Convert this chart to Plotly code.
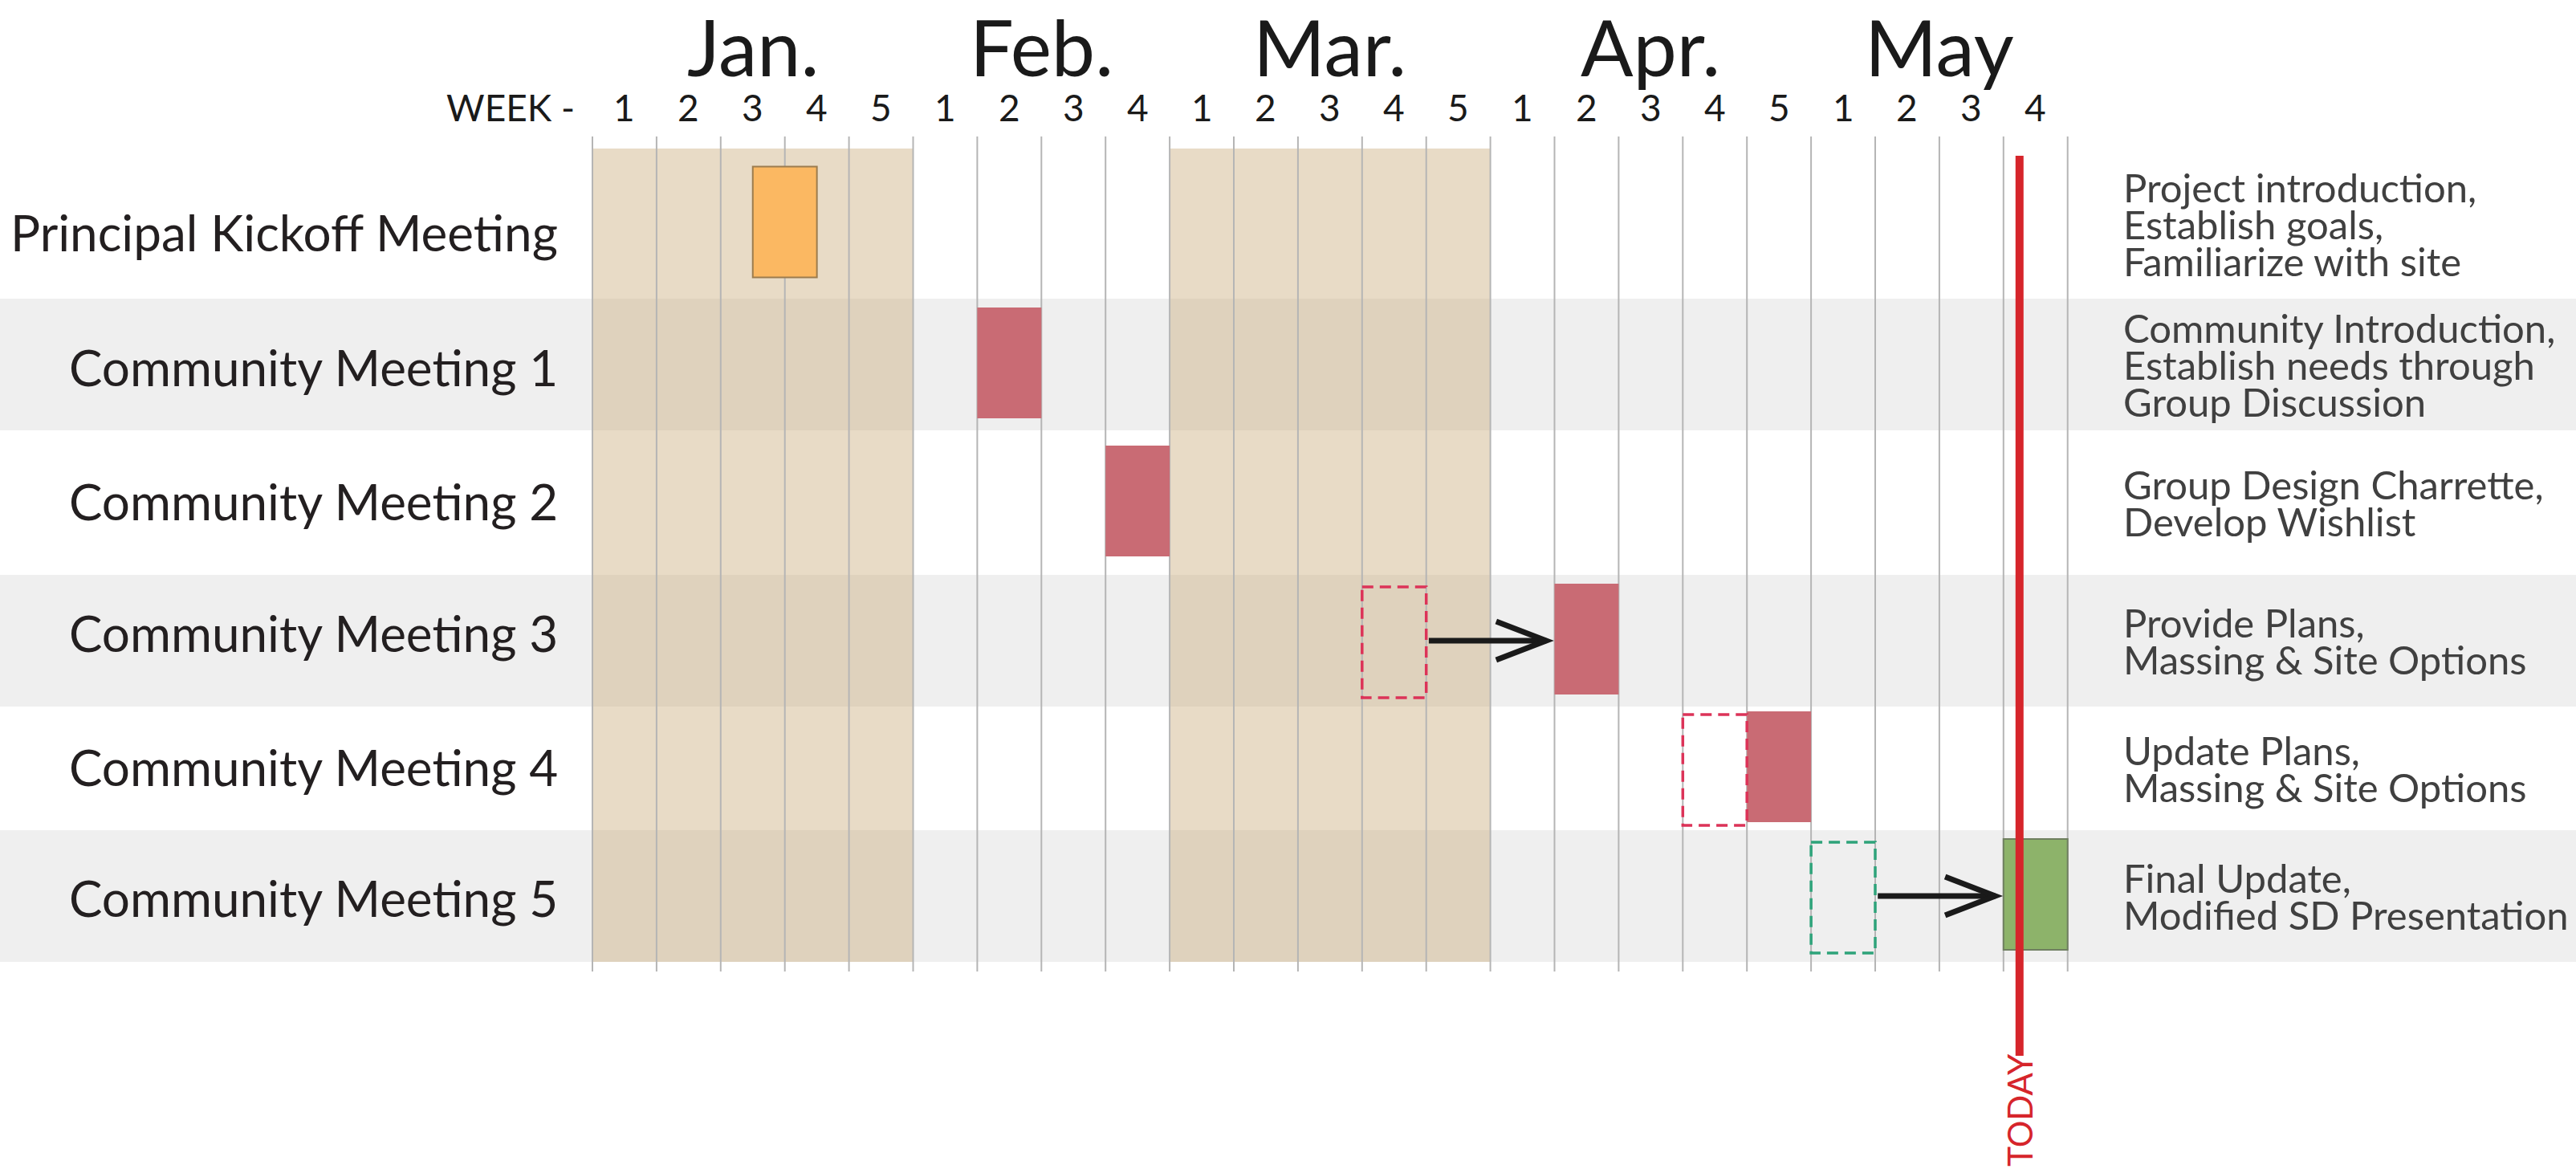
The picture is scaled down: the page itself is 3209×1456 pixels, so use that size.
import plotly.graph_objects as go

# ---------------- data ----------------
months = ["Jan.", "Feb.", "Mar.", "Apr.", "May"]
weeks_per_month = [5, 4, 5, 5, 4]
shaded_months = ["Jan.", "Mar."]

tasks = [
    "Principal Kickoff Meeting",
    "Community Meeting 1",
    "Community Meeting 2",
    "Community Meeting 3",
    "Community Meeting 4",
    "Community Meeting 5",
]
# week index (0-based, counted from Jan. week 1) at which each meeting is held
actual_start = [2.5, 6, 8, 15, 18, 22]
actual_weeks = [1, 1, 1, 1, 1, 1]
# originally planned week (None = not rescheduled)
planned_start = [None, None, None, 12, 17, 19]

descriptions = [
    ["Project introduction,", "Establish goals,", "Familiarize with site"],
    ["Community Introduction,", "Establish needs through", "Group Discussion"],
    ["Group Design Charrette,", "Develop Wishlist"],
    ["Provide Plans,", "Massing & Site Options"],
    ["Update Plans,", "Massing & Site Options"],
    ["Final Update,", "Modified SD Presentation"],
]
today_week = 22.25
today_label = "TODAY"
week_prefix = "WEEK -"

# ---------------- layout / style ----------------
W, H = 3209, 1456
X0_PX = 738.0
WEEK_PX = 79.9
ROW_EDGES = [185, 372, 536, 716, 880, 1034, 1198]
BAR_H = 138
FONT = "Lato"

bar_fill = ["#fbb862", "#c96b74", "#c96b74", "#c96b74", "#c96b74", "#8db36a"]
bar_line = ["#9c7c4e", "#c96b74", "#c96b74", "#c96b74", "#c96b74", "#6f7f60"]
bar_line_w = [2, 0, 0, 0, 0, 2]
planned_color = [None, None, None, "#dc3358", "#dc3358", "#2ea37a"]
label_dy = [10, 3, -2, -10, -2, 2]


def px2x(px):
    return (px - X0_PX) / WEEK_PX


row_center = [(ROW_EDGES[i] + ROW_EDGES[i + 1]) / 2 for i in range(len(tasks))]
n_weeks = sum(weeks_per_month)
month_start = [sum(weeks_per_month[:i]) for i in range(len(months))]

shapes = []
# alternating row bands
for i in range(len(tasks)):
    if i % 2 == 1:
        shapes.append(dict(type="rect", xref="x", yref="y", x0=px2x(0), x1=px2x(W),
                           y0=ROW_EDGES[i], y1=ROW_EDGES[i + 1], fillcolor="#efefef",
                           line=dict(width=0), layer="below"))
# shaded months
for m, s, n in zip(months, month_start, weeks_per_month):
    if m in shaded_months:
        shapes.append(dict(type="rect", xref="x", yref="y", x0=s, x1=s + n,
                           y0=ROW_EDGES[0], y1=ROW_EDGES[-1],
                           fillcolor="rgba(206,179,134,0.47)", line=dict(width=0), layer="below"))
# week grid lines
for k in range(n_weeks + 1):
    shapes.append(dict(type="line", xref="x", yref="y", x0=k, x1=k,
                       y0=ROW_EDGES[0] - 15, y1=ROW_EDGES[-1] + 12,
                       line=dict(color="#b5b5b5", width=2), layer="below"))
# planned (dashed) boxes and arrows
for i, p in enumerate(planned_start):
    if p is None:
        continue
    yc = row_center[i] - 2
    shapes.append(dict(type="rect", xref="x", yref="y", x0=p, x1=p + 1,
                       y0=yc - BAR_H / 2 + 4, y1=yc + BAR_H / 2 + 4,
                       line=dict(color=planned_color[i], width=3.5, dash="14px,8px"),
                       fillcolor="rgba(0,0,0,0)", layer="above"))
    a = actual_start[i]
    if a - (p + 1) > 0.5:
        tip = a - 0.13
        shapes.append(dict(type="line", xref="x", yref="y", x0=p + 1 + 0.04, x1=tip,
                           y0=row_center[i], y1=row_center[i],
                           line=dict(color="#1a1a1a", width=7), layer="above"))
        shapes.append(dict(type="path", xref="x", yref="y",
                           path=f"M {tip - 0.78},{row_center[i] - 24} L {tip},{row_center[i]} "
                                f"L {tip - 0.78},{row_center[i] + 24}",
                           line=dict(color="#1a1a1a", width=7), layer="above"))
# today line
shapes.append(dict(type="line", xref="x", yref="y", x0=today_week, x1=today_week,
                   y0=194, y1=1315, line=dict(color="#d6252b", width=10), layer="above"))

annotations = []
# months
for m, s, n in zip(months, month_start, weeks_per_month):
    annotations.append(dict(x=s + n / 2, y=57, xref="x", yref="y", text=m, showarrow=False,
                            xanchor="center", yanchor="middle",
                            font=dict(family=FONT, size=97, color="#1a1a1a")))
# week numbers
for s, n in zip(month_start, weeks_per_month):
    for w in range(n):
        annotations.append(dict(x=s + w + 0.5, y=133, xref="x", yref="y", text=str(w + 1),
                                showarrow=False, xanchor="center", yanchor="middle",
                                font=dict(family=FONT, size=46, color="#1a1a1a")))
annotations.append(dict(x=px2x(718), y=133, xref="x", yref="y", text=week_prefix,
                        showarrow=False, xanchor="right", yanchor="middle",
                        font=dict(family=FONT, size=46, color="#1a1a1a")))
# task labels
for i, t in enumerate(tasks):
    annotations.append(dict(x=px2x(697), y=row_center[i] + label_dy[i], xref="x", yref="y", text=t,
                            showarrow=False, xanchor="right", yanchor="middle",
                            font=dict(family=FONT, size=62, color="#231f20")))
# descriptions
for i, lines in enumerate(descriptions):
    n = len(lines)
    for j, ln in enumerate(lines):
        annotations.append(dict(x=px2x(2643), y=row_center[i] + (j - (n - 1) / 2) * 46,
                                xref="x", yref="y", text=ln, showarrow=False,
                                xanchor="left", yanchor="middle",
                                font=dict(family=FONT, size=49, color="#404040")))
# today label
annotations.append(dict(x=today_week, y=1382, xref="x", yref="y", text=today_label,
                        showarrow=False, textangle=-90, xanchor="center", yanchor="middle",
                        font=dict(family=FONT, size=42, color="#d6252b")))

fig = go.Figure()
fig.add_trace(go.Bar(
    orientation="h",
    base=actual_start,
    x=actual_weeks,
    y=[c - 2 for c in row_center],
    width=[BAR_H] * len(tasks),
    marker=dict(color=bar_fill, line=dict(color=bar_line, width=bar_line_w)),
    hoverinfo="skip",
    showlegend=False,
))

fig.update_layout(
    width=W, height=H,
    margin=dict(l=0, r=0, t=0, b=0),
    paper_bgcolor="white", plot_bgcolor="white",
    xaxis=dict(range=[px2x(0), px2x(W)], visible=False, fixedrange=True),
    yaxis=dict(range=[H, 0], visible=False, fixedrange=True),
    shapes=shapes,
    annotations=annotations,
    showlegend=False,
)

fig.write_html("out.html", config={"displayModeBar": False},
               post_script="document.body.style.margin='0';document.body.style.overflow='hidden';")
